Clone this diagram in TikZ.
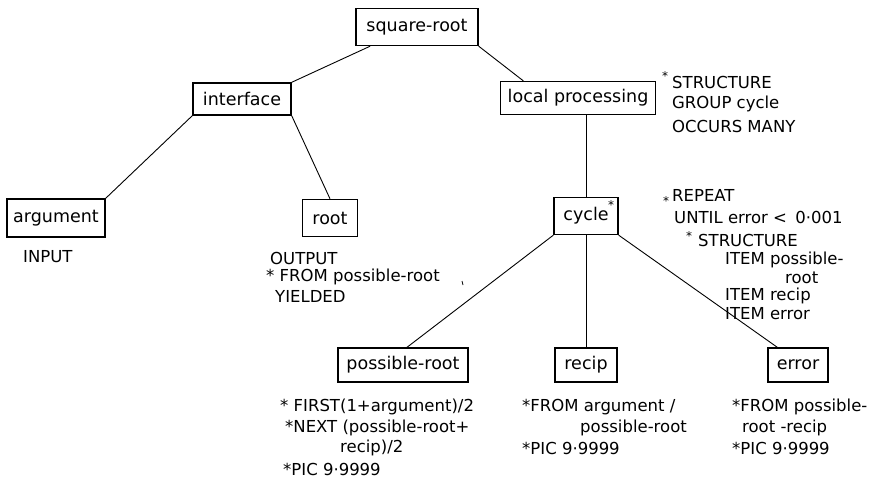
\documentclass[tikz,border=0pt]{standalone}
\usepackage{fontspec}
\setmainfont{DejaVu Sans}
\usetikzlibrary{calc}
\tikzset{
  box/.style={draw, line width=1.4pt, inner sep=0pt, font=\fontsize{17.5}{20}\selectfont},
  ann/.style={anchor=west, inner sep=0pt, font=\fontsize{16.5}{19}\selectfont},
  star/.style={inner sep=0pt, font=\fontsize{12}{12}\selectfont},
  edge/.style={line width=0.9pt}
}
\begin{document}
\begin{tikzpicture}[x=1pt,y=-1pt]
\useasboundingbox (0,0) rectangle (888,482);
% boxes
\node[box, minimum width=122pt, minimum height=37pt] (sq) at (417,27) {square-root};
\node[box, minimum width=98pt, minimum height=32pt] (intf) at (242,99) {interface};
\node[box, minimum width=155pt, minimum height=33pt] (lp) at (578,98) {local processing};
\node[box, minimum width=98pt, minimum height=38pt] (arg) at (56,218) {argument};
\node[box, minimum width=55pt, minimum height=37pt] (root) at (330,218) {root};
\node[box, minimum width=64pt, minimum height=37pt] (cyc) at (586,216) {cycle\hspace{6pt}};
\node[star] (cycstar) at (611,205) {*};
\node[box, minimum width=130pt, minimum height=34pt] (pr) at (403,365) {possible-root};
\node[box, minimum width=62pt, minimum height=34pt] (rec) at (586,365) {recip};
\node[box, minimum width=60pt, minimum height=34pt] (err) at (798,365) {error};
% connectors
\draw[edge] ($(sq.south west)!0.12!(sq.south east)$) -- (intf.north east);
\draw[edge] (sq.south east) -- ($(lp.north west)!0.15!(lp.north east)$);
\draw[edge] (intf.south west) -- (arg.north east);
\draw[edge] (intf.south east) -- (root.north);
\draw[edge] (cyc.north |- lp.south) -- (cyc.north);
\draw[edge] (cyc.south west) -- ($(pr.north)+(4,0)$);
\draw[edge] (cyc.south) -- (rec.north);
\draw[edge] (cyc.south east) -- ($(err.north west)+(10,0)$);
% local processing annotation
\node[star] (s1) at (665,76) {*};
\node[ann] (t1) at (672,82) {STRUCTURE};
\node[ann] (t2) at (672,104) {GROUP cycle};
\node[ann] (t3) at (672,126) {OCCURS MANY};
% cycle annotation
\node[star] (s2) at (666,201) {*};
\node[ann] (t4) at (672,195) {REPEAT};
\node[ann] (t5) at (674,217) {UNTIL error <\enspace 0·001};
\node[star] (s3) at (689,236) {*};
\node[ann] (t6) at (698,240) {STRUCTURE};
\node[ann] (t7) at (725,260) {ITEM possible-};
\node[ann] (t8) at (785,278) {root};
\node[ann] (t9) at (725,296) {ITEM recip};
\node[ann] (t10) at (725,314) {ITEM error};
% argument / root annotations
\node[ann] (t11) at (23,257) {INPUT};
\node[ann] (t12) at (270,258) {OUTPUT};
\node[ann] (t13) at (266,277) {* FROM possible-root};
\node[ann] (t14) at (275,296) {YIELDED};
\draw[line width=0.8pt] (462,281) -- (463,285);
% bottom annotations
\node[ann] (t15) at (280,407) {* FIRST(1+argument)/2};
\node[ann] (t16) at (285,428) {*NEXT (possible-root+};
\node[ann] (t17) at (340,448) {recip)/2};
\node[ann] (t18) at (283,469) {*PIC 9·9999};
\node[ann] (t19) at (522,407) {*FROM argument /};
\node[ann] (t20) at (580,428) {possible-root};
\node[ann] (t21) at (522,448) {*PIC 9·9999};
\node[ann] (t22) at (732,407) {*FROM possible-};
\node[ann] (t23) at (742,428) {root -recip};
\node[ann] (t24) at (732,448) {*PIC 9·9999};
\end{tikzpicture}
\end{document}
